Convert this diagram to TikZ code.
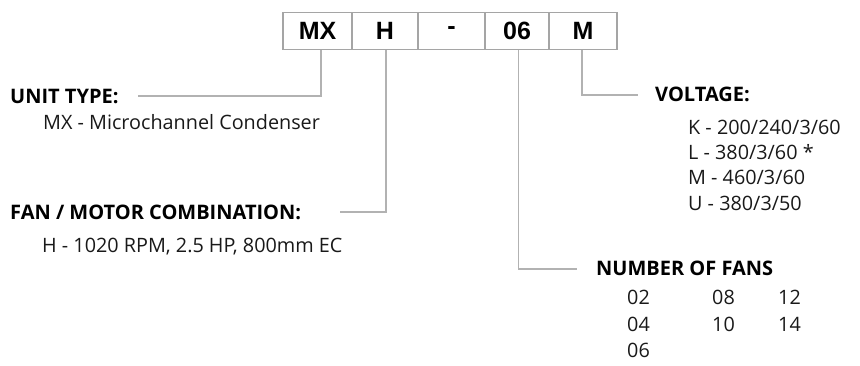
\documentclass[tikz,border=0pt]{standalone}
\usepackage{fontspec}
\setmainfont{Open Sans}
\newfontfamily\boxfont{Liberation Sans}
\definecolor{linegray}{RGB}{178,178,178}
\definecolor{boxgray}{RGB}{165,165,165}
\definecolor{txt}{RGB}{25,25,25}
\begin{document}
\begin{tikzpicture}[x=1pt,y=-1pt,
  codebox/.style={draw=boxgray,line width=1.8pt,minimum height=37pt,inner sep=0pt,
    font=\boxfont\fontsize{25}{25}\selectfont\bfseries,text=black},
  head/.style={anchor=base west,inner sep=0pt,text height=14pt,text depth=0pt,
    font=\fontsize{20}{20}\selectfont\bfseries,text=black},
  item/.style={anchor=base west,inner sep=0pt,font=\fontsize{19.8}{19.8}\selectfont,text=txt},
  conn/.style={draw=linegray,line width=1.1pt}]
\useasboundingbox (0,0) rectangle (860,366);
% code boxes
\node[codebox,minimum width=69pt] (bmx) at (317.5,31) {MX};
\node[codebox,minimum width=66pt] (bh)  at (385,31) {H};
\node[codebox,minimum width=67pt] (bd)  at (451.5,31) {-};
\node[codebox,minimum width=64pt] (b06) at (517,31) {06};
\node[codebox,minimum width=68pt] (bm)  at (583,31) {M};
% headings
\node[head] (ut) at (10,103.5) {UNIT TYPE:};
\node[item] (ut1) at (43,130) {MX - Microchannel Condenser};
\node[head] (fm) at (10,219.5) {FAN / MOTOR COMBINATION:};
\node[item] (fm1) at (42,253) {H - 1020 RPM, 2.5 HP, 800mm EC};
\node[head] (vo) at (655,102) {VOLTAGE:};
\node[item] (v1) at (688,135) {K - 200/240/3/60};
\node[item] (v2) at (688,160) {L - 380/3/60 *};
\node[item] (v3) at (688,185) {M - 460/3/60};
\node[item] (v4) at (688,211) {U - 380/3/50};
\node[head] (nf) at (596,276) {NUMBER OF FANS};
\node[item] (n02) at (627,305) {02};
\node[item] (n04) at (627,331) {04};
\node[item] (n06) at (627,357) {06};
\node[item] (n08) at (712,305) {08};
\node[item] (n10) at (712,331) {10};
\node[item] (n12) at (778,305) {12};
\node[item] (n14) at (778,331) {14};
% connector ends
\coordinate (eut) at (138,96);
\coordinate (efm) at (340,212);
\coordinate (evo) at (638,95);
\coordinate (enf) at (577,269);
\draw[conn] ([xshift=3.5pt]bmx.south) |- (eut);
\draw[conn] ([xshift=1pt]bh.south) |- (efm);
\draw[conn] ([xshift=1.5pt]b06.south) |- (enf);
\draw[conn] ([xshift=-1pt]bm.south) |- (evo);
\end{tikzpicture}
\end{document}
